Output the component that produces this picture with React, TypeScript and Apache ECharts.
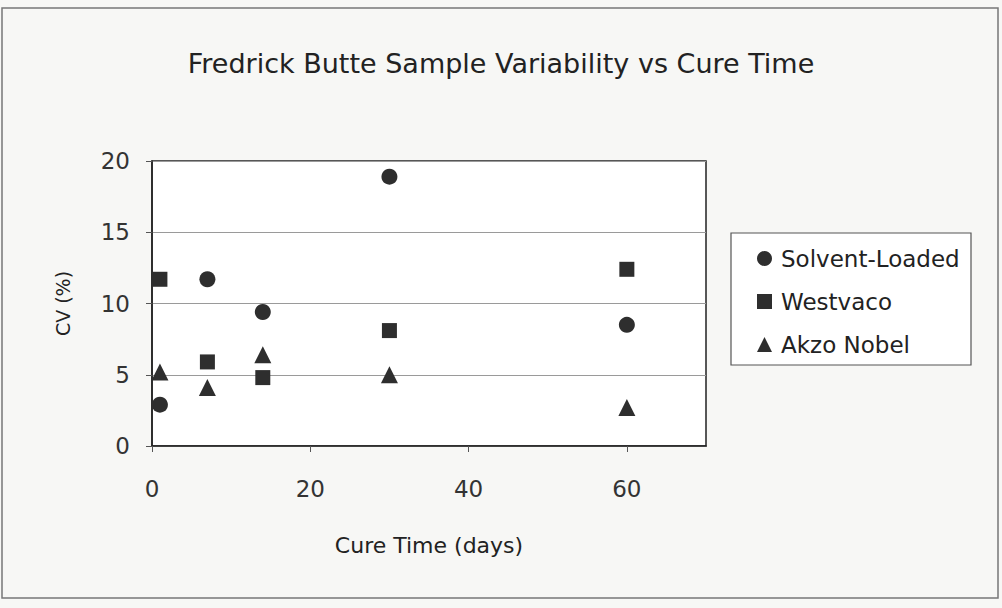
import React, { useEffect, useRef } from "react";
import * as echarts from "echarts";

const cureDays = [1, 7, 14, 30, 60];
const solventLoaded = [2.9, 11.7, 9.4, 18.9, 8.5];
const westvaco = [11.7, 5.9, 4.8, 8.1, 12.4];
const akzoNobel = [5.2, 4.1, 6.4, 5.0, 2.7];
const seriesNames = ["Solvent-Loaded", "Westvaco", "Akzo Nobel"];
const seriesSymbols = ["circle", "rect", "triangle"];
const titleText = "Fredrick Butte Sample Variability vs Cure Time";
const xAxisName = "Cure Time (days)";
const yAxisName = "CV (%)";

const FONT = "'DejaVu Sans', sans-serif";
const INK = "#2e2e2e";

export default function App() {
  const ref = useRef<HTMLDivElement>(null);
  useEffect(() => {
    if (!ref.current) return;
    const chart = echarts.init(ref.current, null, { renderer: "svg" });
    const values = [solventLoaded, westvaco, akzoNobel];
    const sizes = [16, 15, 17];
    chart.setOption({
      animation: false,
      backgroundColor: "#f7f7f5",
      textStyle: { fontFamily: FONT },
      title: {
        text: titleText,
        left: "center",
        top: 45,
        textStyle: { fontFamily: FONT, fontSize: 27, fontWeight: "normal", color: "#222" },
      },
      graphic: [
        {
          type: "rect",
          shape: { x: 2, y: 8, width: 996, height: 590 },
          style: { fill: "none", stroke: "#777", lineWidth: 1.5 },
          silent: true,
          z: -1,
        },
        {
          type: "rect",
          shape: { x: 731, y: 233, width: 240, height: 132 },
          style: { fill: "#ffffff", stroke: "#555", lineWidth: 1.2 },
          silent: true,
          z: -1,
        },
      ],
      legend: {
        orient: "vertical",
        left: 757,
        top: 247,
        padding: 0,
        itemWidth: 15,
        itemHeight: 15,
        itemGap: 20,
        itemStyle: { opacity: 1, color: INK },
        textStyle: { fontFamily: FONT, fontSize: 23, color: "#222", padding: [0, 0, 0, 4] },
        data: seriesNames.map((n, i) => ({ name: n, icon: seriesSymbols[i] })),
      },
      grid: {
        left: 152,
        top: 161,
        width: 554,
        height: 285,
        show: true,
        backgroundColor: "#ffffff",
        borderColor: "#222",
        borderWidth: 1.5,
      },
      xAxis: {
        type: "value",
        min: 0,
        max: 70,
        interval: 20,
        name: xAxisName,
        nameLocation: "middle",
        nameGap: 88,
        nameTextStyle: { fontFamily: FONT, fontSize: 22, color: "#222" },
        axisLine: { show: true, lineStyle: { color: "#222", width: 1.5 } },
        axisTick: { show: true, length: 6, lineStyle: { color: "#555" } },
        axisLabel: {
          margin: 31,
          fontFamily: FONT,
          fontSize: 23,
          color: "#333",
          showMaxLabel: false,
        },
        splitLine: { show: false },
      },
      yAxis: {
        type: "value",
        min: 0,
        max: 20,
        interval: 5,
        name: yAxisName,
        nameLocation: "middle",
        nameRotate: 90,
        nameGap: 80,
        nameTextStyle: { fontFamily: FONT, fontSize: 19, color: "#222" },
        axisLine: { show: true, lineStyle: { color: "#222", width: 1.5 } },
        axisTick: { show: true, length: 6, lineStyle: { color: "#555" } },
        axisLabel: { margin: 22, fontFamily: FONT, fontSize: 23, color: "#333" },
        splitLine: { show: true, lineStyle: { color: "#9a9a9a", width: 1 } },
      },
      series: seriesNames.map((n, i) => ({
        name: n,
        type: "scatter",
        symbol: seriesSymbols[i],
        symbolSize: sizes[i],
        itemStyle: { color: INK, opacity: 1 },
        data: cureDays.map((d, j) => [d, values[i][j]]),
      })),
    });
    return () => chart.dispose();
  }, []);
  return (
    <div
      ref={ref}
      style={{ position: "absolute", left: 0, top: 0, width: 1002, height: 608 }}
    />
  );
}
